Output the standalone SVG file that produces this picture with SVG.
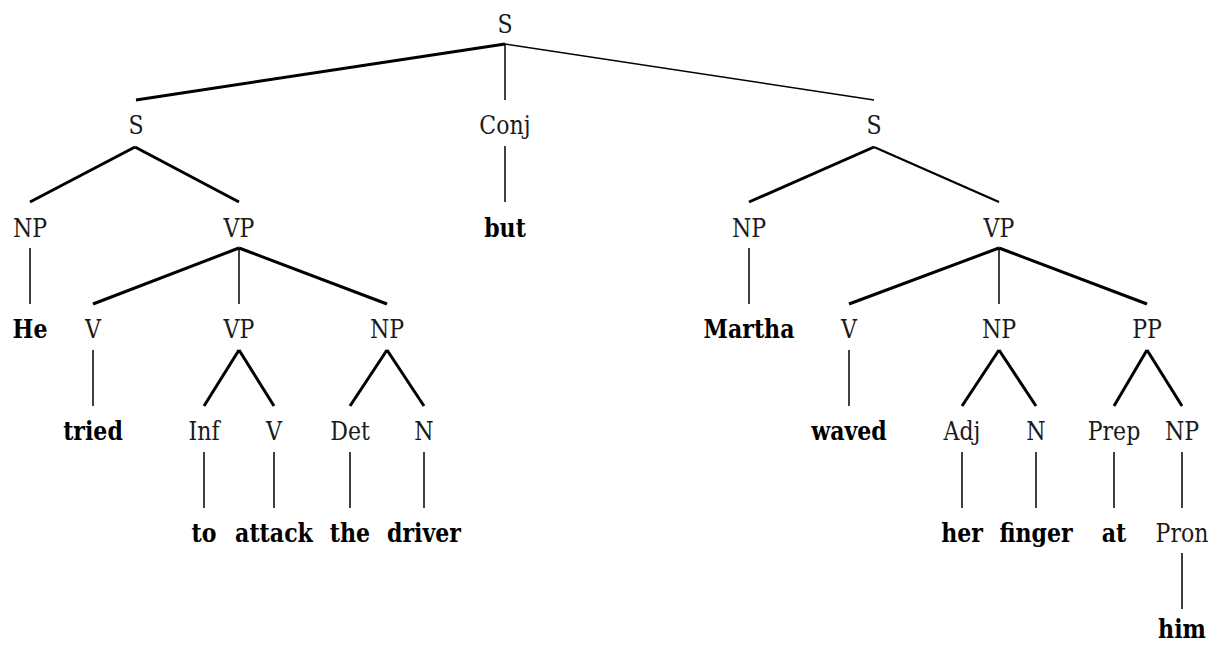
<svg xmlns="http://www.w3.org/2000/svg" width="1220" height="646" viewBox="0 0 1220 646">
<style>
.n text{font-size:26px;text-anchor:middle;fill:#1a1a1a}
.n .w{font-weight:bold;fill:#000}
.c line{stroke:#000;stroke-linecap:butt}
.k{stroke-width:3}
.m{stroke-width:2.2}
.t{stroke-width:1.5}
</style>
<rect width="1220" height="646" fill="#fff"/>
<g class="c" id="connectors">
<line class="k" x1="505" y1="44" x2="136" y2="100"/>
<line class="t" x1="505" y1="44" x2="505" y2="100"/>
<line class="t" x1="505" y1="44" x2="874" y2="100"/>
<line class="k" x1="135" y1="147" x2="30" y2="202"/>
<line class="k" x1="135" y1="147" x2="239" y2="202"/>
<line class="t" x1="505" y1="146" x2="505" y2="202"/>
<line class="k" x1="874" y1="147" x2="749" y2="202"/>
<line class="m" x1="874" y1="147" x2="999" y2="202"/>
<line class="t" x1="30" y1="248" x2="30" y2="304"/>
<line class="k" x1="239" y1="248" x2="93" y2="304"/>
<line class="t" x1="239" y1="248" x2="239" y2="304"/>
<line class="k" x1="239" y1="248" x2="387" y2="304"/>
<line class="t" x1="749" y1="248" x2="749" y2="304"/>
<line class="k" x1="999" y1="248" x2="849" y2="304"/>
<line class="t" x1="999" y1="248" x2="999" y2="304"/>
<line class="k" x1="999" y1="248" x2="1147" y2="304"/>
<line class="t" x1="93" y1="350" x2="93" y2="406"/>
<line class="k" x1="239" y1="350" x2="204" y2="406"/>
<line class="k" x1="239" y1="350" x2="274" y2="406"/>
<line class="k" x1="387" y1="350" x2="350" y2="406"/>
<line class="k" x1="387" y1="350" x2="424" y2="406"/>
<line class="t" x1="849" y1="350" x2="849" y2="406"/>
<line class="k" x1="999" y1="350" x2="962" y2="406"/>
<line class="k" x1="999" y1="350" x2="1036" y2="406"/>
<line class="k" x1="1147" y1="350" x2="1114" y2="406"/>
<line class="k" x1="1147" y1="350" x2="1182" y2="406"/>
<line class="t" x1="204" y1="452" x2="204" y2="508"/>
<line class="t" x1="274" y1="452" x2="274" y2="508"/>
<line class="t" x1="350" y1="452" x2="350" y2="508"/>
<line class="t" x1="424" y1="452" x2="424" y2="508"/>
<line class="t" x1="962" y1="452" x2="962" y2="508"/>
<line class="t" x1="1036" y1="452" x2="1036" y2="508"/>
<line class="t" x1="1114" y1="452" x2="1114" y2="508"/>
<line class="t" x1="1182" y1="452" x2="1182" y2="508"/>
<line class="t" x1="1182" y1="553" x2="1182" y2="609"/>
</g>
<g class="n" font-family="DejaVu Serif, serif">
<g id="n-S-root"><text transform="translate(505 33) scale(.85 1)">S</text></g>
<g id="n-S-left"><text transform="translate(136 134) scale(.85 1)">S</text></g>
<g id="n-Conj"><text transform="translate(505 134) scale(.85 1)">Conj</text></g>
<g id="n-S-right"><text transform="translate(874 134) scale(.85 1)">S</text></g>
<g id="n-NP-1"><text transform="translate(30 237) scale(.85 1)">NP</text></g>
<g id="n-VP-1"><text transform="translate(239 237) scale(.85 1)">VP</text></g>
<g id="n-but"><text class="w" transform="translate(505 237) scale(.85 1)">but</text></g>
<g id="n-NP-2"><text transform="translate(749 237) scale(.85 1)">NP</text></g>
<g id="n-VP-2"><text transform="translate(999 237) scale(.85 1)">VP</text></g>
<g id="n-He"><text class="w" transform="translate(30 338) scale(.85 1)">He</text></g>
<g id="n-V-1"><text transform="translate(93 338) scale(.85 1)">V</text></g>
<g id="n-VP-3"><text transform="translate(239 338) scale(.85 1)">VP</text></g>
<g id="n-NP-3"><text transform="translate(387 338) scale(.85 1)">NP</text></g>
<g id="n-Martha"><text class="w" transform="translate(749 338) scale(.85 1)">Martha</text></g>
<g id="n-V-2"><text transform="translate(849 338) scale(.85 1)">V</text></g>
<g id="n-NP-4"><text transform="translate(999 338) scale(.85 1)">NP</text></g>
<g id="n-PP"><text transform="translate(1147 338) scale(.85 1)">PP</text></g>
<g id="n-tried"><text class="w" transform="translate(93 440) scale(.85 1)">tried</text></g>
<g id="n-Inf"><text transform="translate(204 440) scale(.85 1)">Inf</text></g>
<g id="n-V-3"><text transform="translate(274 440) scale(.85 1)">V</text></g>
<g id="n-Det"><text transform="translate(350 440) scale(.85 1)">Det</text></g>
<g id="n-N-1"><text transform="translate(424 440) scale(.85 1)">N</text></g>
<g id="n-waved"><text class="w" transform="translate(849 440) scale(.85 1)">waved</text></g>
<g id="n-Adj"><text transform="translate(962 440) scale(.85 1)">Adj</text></g>
<g id="n-N-2"><text transform="translate(1036 440) scale(.85 1)">N</text></g>
<g id="n-Prep"><text transform="translate(1114 440) scale(.85 1)">Prep</text></g>
<g id="n-NP-5"><text transform="translate(1182 440) scale(.85 1)">NP</text></g>
<g id="n-to"><text class="w" transform="translate(204 542) scale(.85 1)">to</text></g>
<g id="n-attack"><text class="w" transform="translate(274 542) scale(.85 1)">attack</text></g>
<g id="n-the"><text class="w" transform="translate(350 542) scale(.85 1)">the</text></g>
<g id="n-driver"><text class="w" transform="translate(424 542) scale(.85 1)">driver</text></g>
<g id="n-her"><text class="w" transform="translate(962 542) scale(.85 1)">her</text></g>
<g id="n-finger"><text class="w" transform="translate(1036 542) scale(.85 1)">finger</text></g>
<g id="n-at"><text class="w" transform="translate(1114 542) scale(.85 1)">at</text></g>
<g id="n-Pron"><text transform="translate(1182 542) scale(.85 1)">Pron</text></g>
<g id="n-him"><text class="w" transform="translate(1182 638) scale(.85 1)">him</text></g>
</g>
</svg>
